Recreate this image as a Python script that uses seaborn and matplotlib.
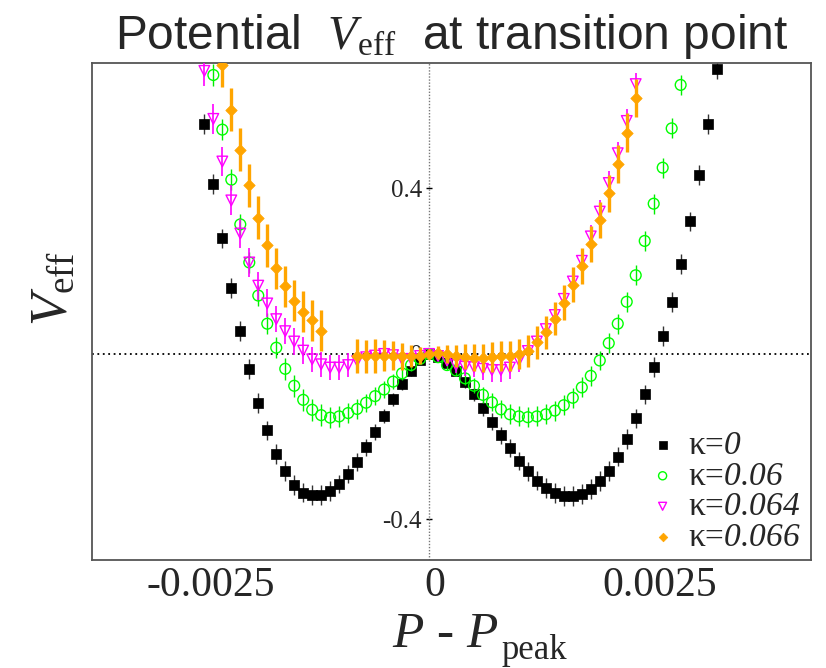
import numpy as np
import pandas as pd
import matplotlib
matplotlib.use("Agg")
import matplotlib.pyplot as plt
import matplotlib.transforms as mtransforms
import seaborn as sns

# ---------------- data (P - P_peak in units of 1e-4) ----------------
k0_p = list(range(-25, 33))
k0_v = [0.556, 0.411, 0.279, 0.160, 0.056, -0.037, -0.118, -0.185, -0.241, -0.284,
        -0.316, -0.335, -0.342, -0.342, -0.332, -0.315, -0.291, -0.261, -0.226, -0.189,
        -0.150, -0.110, -0.073, -0.041, -0.015, 0.000, -0.007, -0.021, -0.041, -0.069,
        -0.098, -0.131, -0.164, -0.197, -0.228, -0.258, -0.284, -0.306, -0.324, -0.337,
        -0.344, -0.344, -0.338, -0.327, -0.308, -0.282, -0.248, -0.206, -0.156, -0.098,
        -0.031, 0.044, 0.126, 0.218, 0.320, 0.433, 0.555, 0.689]
k0_e = [0.024, 0.024, 0.024, 0.024, 0.024, 0.024, 0.024, 0.024, 0.024, 0.024,
        0.024, 0.024, 0.024, 0.024, 0.024, 0.022, 0.022, 0.022, 0.020, 0.020,
        0.018, 0.016, 0.014, 0.012, 0.010, 0.004, 0.008, 0.010, 0.012, 0.014,
        0.016, 0.018, 0.020, 0.020, 0.022, 0.022, 0.022, 0.024, 0.024, 0.024,
        0.024, 0.024, 0.024, 0.024, 0.024, 0.024, 0.024, 0.024, 0.024, 0.024,
        0.024, 0.024, 0.024, 0.024, 0.024, 0.024, 0.024, 0.024]

k1_p = list(range(-24, 29))
k1_v = [0.674, 0.542, 0.421, 0.313, 0.221, 0.141, 0.073, 0.015, -0.036, -0.077,
        -0.111, -0.135, -0.148, -0.154, -0.151, -0.143, -0.133, -0.118, -0.102, -0.086,
        -0.067, -0.047, -0.027, -0.012, 0.000, -0.008, -0.027, -0.040, -0.059, -0.077,
        -0.099, -0.117, -0.134, -0.146, -0.151, -0.153, -0.151, -0.146, -0.137, -0.124,
        -0.106, -0.081, -0.053, -0.016, 0.026, 0.073, 0.126, 0.190, 0.273, 0.363,
        0.450, 0.545, 0.650]
k1_e = [0.026, 0.026, 0.026, 0.026, 0.026, 0.026, 0.026, 0.026, 0.026, 0.026,
        0.026, 0.026, 0.026, 0.026, 0.026, 0.024, 0.024, 0.022, 0.022, 0.020,
        0.018, 0.016, 0.014, 0.010, 0.004, 0.008, 0.012, 0.014, 0.016, 0.018,
        0.020, 0.022, 0.022, 0.024, 0.024, 0.024, 0.024, 0.024, 0.024, 0.024,
        0.024, 0.024, 0.024, 0.024, 0.024, 0.024, 0.024, 0.024, 0.024, 0.024,
        0.024, 0.024, 0.024]

k2_p = list(range(-25, 24))
k2_v = [0.684, 0.568, 0.465, 0.371, 0.291, 0.221, 0.165, 0.122, 0.084, 0.055,
        0.030, 0.008, -0.013, -0.025, -0.033, -0.033, -0.027, -0.017, -0.008, -0.004,
        0.000, -0.003, -0.013, -0.012, -0.005, 0.000, -0.005, -0.016, -0.027, -0.031,
        -0.032, -0.036, -0.039, -0.039, -0.033, -0.016, 0.007, 0.030, 0.060, 0.094,
        0.133, 0.175, 0.225, 0.284, 0.344, 0.413, 0.485, 0.563, 0.652]
k2_e = [0.036, 0.036, 0.036, 0.036, 0.036, 0.034, 0.034, 0.034, 0.032, 0.032,
        0.032, 0.032, 0.030, 0.030, 0.030, 0.030, 0.030, 0.028, 0.028, 0.026,
        0.024, 0.022, 0.018, 0.014, 0.010, 0.004, 0.010, 0.014, 0.018, 0.022,
        0.024, 0.026, 0.028, 0.028, 0.028, 0.028, 0.028, 0.028, 0.028, 0.028,
        0.028, 0.028, 0.028, 0.028, 0.028, 0.028, 0.028, 0.028, 0.028]

k3_p = [-23, -22, -21, -20, -19, -18, -17, -16, -15, -14, -13, -12,
        -8, -7, -6, -5, -4, -3, -2, -1, 0, 1, 2, 3, 4, 5, 6, 7, 8, 9, 10,
        11, 12, 13, 14, 15, 16, 17, 18, 19, 20, 21, 22, 23]
k3_v = [0.698, 0.590, 0.493, 0.407, 0.329, 0.262, 0.207, 0.163, 0.129, 0.102, 0.081, 0.056,
        -0.005, -0.006, -0.005, -0.004, -0.004, -0.006, -0.005, -0.004, 0.000, 0.003,
        0.000, -0.005, -0.007, -0.009, -0.009, -0.008, -0.006, -0.005, 0.000,
        0.007, 0.028, 0.052, 0.085, 0.124, 0.167, 0.213, 0.266, 0.324, 0.388,
        0.458, 0.535, 0.619]
k3_e = [0.052, 0.052, 0.052, 0.052, 0.052, 0.052, 0.050, 0.050, 0.050, 0.050, 0.050, 0.050,
        0.040, 0.040, 0.040, 0.038, 0.036, 0.032, 0.026, 0.020, 0.010, 0.016,
        0.022, 0.026, 0.030, 0.032, 0.034, 0.036, 0.036, 0.036, 0.036,
        0.038, 0.040, 0.040, 0.040, 0.042, 0.042, 0.044, 0.044, 0.044, 0.044,
        0.046, 0.046, 0.046]

kappa_labels = ["0", "0.06", "0.064", "0.066"]
colors = ["black", "#00ff00", "#ff00ff", "#ffa500"]
ecolors = ["#333333", "#00ee00", "#ff00ff", "#ffa500"]
x_ticks = [-0.0025, 0.0, 0.0025]
x_ticklabels = ["-0.0025", "0", "0.0025"]
y_ticks = [-0.4, 0.0, 0.4]
y_ticklabels = ["-0.4", "0", "0.4"]
P_UNIT = 1e-4

# ---------------- style ----------------
sns.set_theme(style="white")
plt.rcParams["font.family"] = ["Liberation Serif", "DejaVu Serif"]
plt.rcParams["mathtext.fontset"] = "custom"
plt.rcParams["mathtext.rm"] = "Liberation Serif"
plt.rcParams["mathtext.it"] = "Liberation Serif:italic"
plt.rcParams["mathtext.sf"] = "Liberation Serif:italic"
plt.rcParams["mathtext.bf"] = "Liberation Serif:bold"

fig = plt.figure(figsize=(8.26, 6.68), dpi=100)
ax = fig.add_axes([0.1114, 0.1617, 0.8704, 0.744])

XMIN, XMAX = -0.00375, 0.00425
YMIN, YMAX = -0.498, 0.703

ax.axhline(0, color="black", lw=1.3, ls=(0, (1, 2)), zorder=1)
ax.axvline(0, color="#777777", lw=1.0, ls=(0, (1, 1.2)), zorder=1)

series = [
    (k0_p, k0_v, k0_e, "s", True, 1.0, 50),
    (k1_p, k1_v, k1_e, "o", False, 1.0, 60),
    (k2_p, k2_v, k2_e, "v", False, 1.2, 58),
    (k3_p, k3_v, k3_e, "D", True, 2.4, 34),
]
for i, (p, v, e, mk, filled, elw, size) in enumerate(series):
    df = pd.DataFrame({"P": np.array(p) * P_UNIT, "V": v, "err": e})
    lab = "κ=$\\mathsf{" + kappa_labels[i] + "}$"
    ax.errorbar(df["P"], df["V"], yerr=df["err"], fmt="none", ecolor=ecolors[i],
                elinewidth=elw, capsize=0, zorder=2 + i)
    if filled:
        sns.scatterplot(data=df, x="P", y="V", marker=mk, s=size, color=colors[i],
                        edgecolor=colors[i], linewidth=0.5, label=lab, ax=ax,
                        zorder=2.5 + i)
    else:
        sns.scatterplot(data=df, x="P", y="V", marker=mk, s=size, facecolors="none",
                        edgecolors=colors[i], linewidth=1.0, label=lab, ax=ax,
                        zorder=2.5 + i)

ax.set_xlim(XMIN, XMAX)
ax.set_ylim(YMIN, YMAX)

for s in ax.spines.values():
    s.set_color("#555555")
    s.set_linewidth(1.3)

ax.set_xticks(x_ticks)
ax.set_xticklabels(x_ticklabels, fontsize=30)
ax.tick_params(axis="x", length=0, pad=5)
ax.set_yticks([])
off = mtransforms.ScaledTranslation(6 / 100, 0, fig.dpi_scale_trans)
for lab in ax.get_xticklabels():
    lab.set_transform(lab.get_transform() + off)

frac = (0 - XMIN) / (XMAX - XMIN)
sec = ax.secondary_yaxis(frac)
sec.set_yticks(y_ticks)
sec.set_yticklabels(y_ticklabels)
sec.spines["left"].set_visible(False)
sec.tick_params(axis="y", direction="inout", length=4, width=1, pad=3, color="black",
                labelsize=18)

ax.set_title("Potential  $V_{\\mathrm{eff}}$  at transition point",
             fontsize=34.5, fontfamily="Liberation Sans", pad=10)
ax.set_xlabel("")
fig.text(392 / 826, 1 - 647 / 668, "$P$ - $P$", fontsize=37, ha="left", va="baseline")
fig.text(501 / 826, 1 - 659 / 668, "peak", fontsize=25, ha="left", va="baseline")
ax.set_ylabel("$V_{\\mathrm{eff}}$", fontsize=38)
ax.yaxis.set_label_coords(-0.020, 0.546)

leg = ax.legend(loc="lower right", bbox_to_anchor=(0.985, 0.015), frameon=False,
                fontsize=24, handletextpad=0.25, labelspacing=0.0, borderaxespad=0.0,
                borderpad=0.0, handlelength=1.0, markerscale=0.75)

fig.savefig("out.png", dpi=100)
